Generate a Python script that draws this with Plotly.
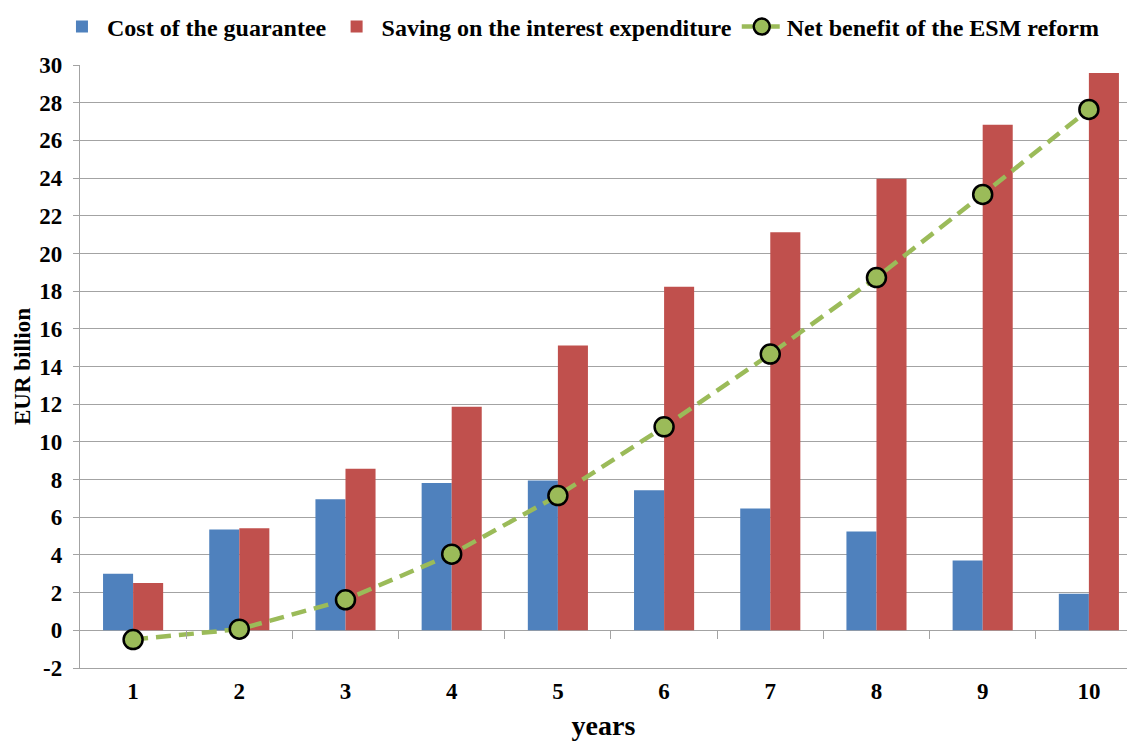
import plotly.graph_objects as go

years = [1, 2, 3, 4, 5, 6, 7, 8, 9, 10]
cost_guarantee = [3.0, 5.35, 6.95, 7.82, 7.95, 7.43, 6.46, 5.24, 3.70, 1.94]
interest_saving = [2.51, 5.41, 8.57, 11.86, 15.12, 18.23, 21.12, 23.96, 26.83, 29.58]
net_benefit = [-0.49, 0.06, 1.62, 4.04, 7.15, 10.8, 14.66, 18.72, 23.13, 27.64]
y_ticks = list(range(-2, 31, 2))
y_labels = [str(v) for v in y_ticks]  # plain hyphen for "-2"
boundaries = [1.5, 2.5, 3.5, 4.5, 5.5, 6.5, 7.5, 8.5, 9.5]

FONT = "'Liberation Serif', 'Times New Roman', serif"
GRID = "#a3a3a3"

fig = go.Figure()
fig.add_trace(go.Bar(x=years, y=cost_guarantee, name="Cost of the guarantee",
                     marker=dict(color="#4F81BD", line=dict(width=0))))
fig.add_trace(go.Bar(x=years, y=interest_saving, name="Saving on the interest expenditure",
                     marker=dict(color="#C0504D", line=dict(width=0))))
fig.add_trace(go.Scatter(x=years, y=net_benefit, name="Net benefit of the ESM reform",
                         mode="lines+markers",
                         line=dict(color="#9BBB59", width=4.5, dash="15px,8px"),
                         marker=dict(size=19, color="#9BBB59",
                                     line=dict(color="black", width=2.5))))
# invisible helper trace so the zero-line tick axis is drawn
fig.add_trace(go.Scatter(x=years, y=[None] * len(years), xaxis="x2",
                         showlegend=False, hoverinfo="skip"))

fig.update_layout(
    width=1127, height=742,
    margin=dict(l=80, r=0, t=65, b=74),
    paper_bgcolor="white", plot_bgcolor="white",
    font=dict(family=FONT, size=22, color="black", weight="bold"),
    barmode="group", bargap=0.434, bargroupgap=0,
    legend=dict(orientation="h", x=0.478, xanchor="center",
                yref="container", y=1 - 27 / 742, yanchor="middle",
                font=dict(size=24, family=FONT, weight="bold"), itemwidth=40),
    xaxis=dict(range=[0.5, 10.359], tickvals=years, ticks="", showgrid=False,
               showline=True, linecolor=GRID, linewidth=1, mirror=False,
               tickfont=dict(size=23), ticklabelstandoff=2, automargin=False,
               title=dict(text="years", font=dict(size=28), standoff=12)),
    xaxis2=dict(overlaying="x", anchor="free", position=2 / 32, range=[0.5, 10.359],
                tickvals=boundaries, ticks="outside", ticklen=8, tickcolor=GRID,
                showticklabels=False, showgrid=False, showline=False, zeroline=False),
    yaxis=dict(range=[-2, 30], tickvals=y_ticks, ticktext=y_labels,
               showgrid=True, gridcolor=GRID, gridwidth=1.3,
               zeroline=True, zerolinecolor=GRID, zerolinewidth=1.3,
               showline=True, linecolor=GRID, linewidth=1.3, automargin=False,
               ticks="outside", ticklen=6, tickcolor=GRID, ticklabelstandoff=6,
               tickfont=dict(size=23),
               title=dict(text="EUR billion", font=dict(size=23), standoff=2)),
)

# drop the browser's default body margin so the figure sits at the page corner
fig.write_html("out.html", config={"displayModeBar": False},
               post_script="document.body.style.margin='0';")
